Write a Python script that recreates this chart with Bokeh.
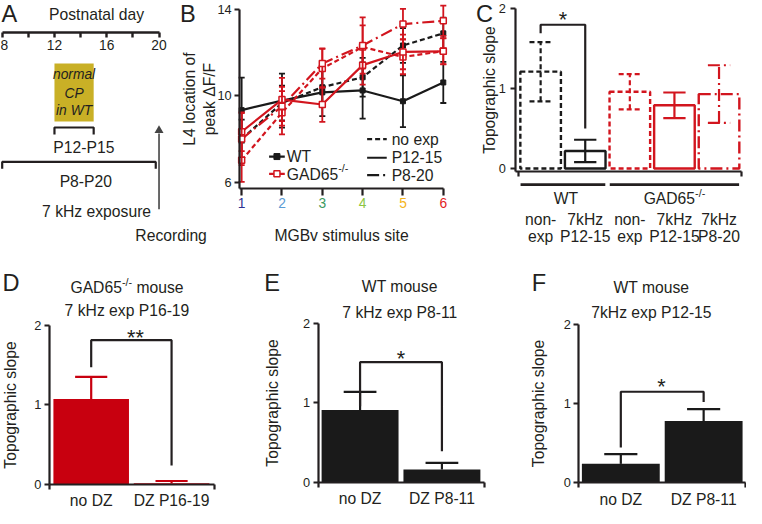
import numpy as np
from bokeh.plotting import figure
from bokeh.models import Range1d, LinearAxis, FixedTicker
from bokeh.core.properties import value
from bokeh.embed import file_html
from bokeh.resources import INLINE

# ---------------- data ----------------
# Panel A: timeline in postnatal days
a_major_days = [8, 12, 16, 20]
a_minor_days = [10, 14, 18]
a_cp_window = [12, 15]          # normal critical period in WT
a_exp_short = [12, 15]          # 7 kHz exposure P12-P15
a_exp_long = [8, 19.75]         # 7 kHz exposure P8-P20
a_record_day = 20

# Panel B: L4 location of peak dF/F vs MGBv stimulus site
b_sites = [1, 2, 3, 4, 5, 6]
b_site_colors = ["#2E3192", "#5B9BD5", "#3C9A5F", "#8DC63F", "#F5B41A", "#E31E24"]
b_wt_noexp = [8.0, 9.67, 10.4, 10.86, 12.33, 12.89]
b_wt_noexp_err = [0.9, 0.8, 0.8, 0.9, 0.8, 0.73]
b_wt_p1215 = [9.34, 9.78, 10.16, 10.25, 9.75, 10.62]
b_wt_p1215_err = [1.5, 1.25, 1.1, 1.3, 1.2, 0.95]
b_gad_noexp = [7.02, 9.22, 11.27, 12.26, 11.8, 12.07]
b_gad_noexp_err = [1.0, 1.0, 0.9, 1.0, 0.8, 0.6]
b_gad_p1215 = [8.34, 9.83, 9.6, 11.42, 12.03, 12.06]
b_gad_p1215_err = [0.9, 1.0, 0.8, 0.9, 0.8, 0.6]
b_gad_p820 = [8.0, 9.52, 11.5, 12.33, 13.32, 13.47]
b_gad_p820_err = [1.2, 0.9, 0.7, 1.3, 0.7, 0.7]

# Panel C: topographic slope
c_line1 = ["non-", "7kHz", "non-", "7kHz", "7kHz"]
c_line2 = ["exp", "P12-15", "exp", "P12-15", "P8-20"]
c_vals = [1.21, 0.22, 0.96, 0.79, 0.93]
c_errs = [0.37, 0.14, 0.22, 0.16, 0.36]
c_geno = ["WT", "WT", "GAD", "GAD", "GAD"]
c_cond = ["noexp", "p1215", "noexp", "p1215", "p820"]

# Panels D, E, F
d_labels = ["no DZ", "DZ P16-19"]
d_vals = [1.07, 0.01]
d_errs = [0.28, 0.03]
e_labels = ["no DZ", "DZ P8-11"]
e_vals = [0.91, 0.16]
e_errs = [0.23, 0.085]
f_labels = ["no DZ", "DZ P8-11"]
f_vals = [0.24, 0.78]
f_errs = [0.124, 0.15]

# ---------------- style / layout ----------------
W, H = 746, 508
FONT = "Liberation Sans"
INK = "#231F20"
RED = "#D2151E"
DRED = "#C8000F"
BLK = "#1A1A1A"
YEL = "#C9B026"
DASH = {"noexp": "5 3", "p1215": "solid", "p820": "12 4 2 4"}
GCOL = {"WT": BLK, "GAD": RED}

SX = 744 / 759; OX = 1 - 2 * SX
SY = 506 / 514; OY = 1 - 7 * SY
SC = (SX + SY) / 2


def LX(r):
    return r * SX + OX


def LY(r):
    return r * SY + OY


def fs(px):
    return f"{px * SC:.1f}px"


p = figure(width=W, height=H, output_backend="svg", toolbar_location=None,
           x_range=Range1d(-OX / SX, (W - OX) / SX),
           y_range=Range1d((H - OY) / SY, -OY / SY),
           x_axis_type=None, y_axis_type=None, min_border=0,
           outline_line_color=None, background_fill_color="white",
           border_fill_color="white")

MAP = {}


def add_xr(name, x0, x1, rx0, rx1):
    lx0, lx1 = LX(rx0), LX(rx1)
    s = (lx1 - lx0) / (x1 - x0)
    xs = x0 - lx0 / s
    p.extra_x_ranges[name] = Range1d(start=xs, end=xs + W / s)
    MAP[name + "x"] = (x0, x1, rx0, rx1)


def add_yr(name, y0, y1, ry0, ry1):
    ly0, ly1 = LY(ry0), LY(ry1)
    t = (ly0 - ly1) / (y1 - y0)
    ys = y0 - (H - ly0) / t
    p.extra_y_ranges[name] = Range1d(start=ys, end=ys + H / t)


def to_rx(name, x):
    x0, x1, rx0, rx1 = MAP[name + "x"]
    return rx0 + (x - x0) * (rx1 - rx0) / (x1 - x0)


AW = {' ': 278, '-': 333, '/': 278, 'A': 667, 'D': 722, 'G': 778, 'W': 944, 'T': 611,
      'k': 500, 'H': 722, 'z': 500, 'm': 833, 'o': 556, 'u': 556, 's': 500, 'e': 556,
      'x': 500, 'p': 556, 'P': 667}


def tw(s, size):
    return sum(AW.get(c, 556) for c in s) / 1000 * size


def T(x, y, s, size=16, align="center", base="middle", color=INK, style="normal",
      xr="default", yr="default"):
    p.text(x=[x], y=[y], text=[s], text_font=value(FONT), text_font_size=fs(size),
           text_align=align, text_baseline=base, text_color=color,
           text_font_style=style, x_range_name=xr, y_range_name=yr)


def rich(x, cy, parts, align="center"):
    total = sum(tw(s, sz) for s, sz, r in parts)
    cur = x - total / 2 if align == "center" else x
    for s, sz, r in parts:
        lead = len(s) - len(s.lstrip(" "))
        cur += tw(" " * lead, sz)
        T(cur, cy - r, s.strip(" "), size=sz, align="left")
        cur += tw(s.strip(" "), sz)


def make_axis(side, xr, yr, loc, bounds, ticks=(), minor=(), label=None,
              lab_color=INK, line=True, tick_color=INK, tick_out=5, minor_out=5,
              lab_size=13, standoff=3, label_standoff=5, overrides=None,
              label_size=16, lw=2.2):
    ax = LinearAxis(x_range_name=xr, y_range_name=yr, fixed_location=loc,
                    bounds=bounds,
                    ticker=FixedTicker(ticks=list(ticks), minor_ticks=list(minor)))
    ax.axis_line_width = lw
    ax.axis_line_color = INK if line else None
    ax.major_tick_line_color = tick_color
    ax.major_tick_line_width = lw
    ax.major_tick_out = tick_out
    ax.major_tick_in = 0
    ax.minor_tick_line_color = INK
    ax.minor_tick_line_width = lw
    ax.minor_tick_out = minor_out
    ax.minor_tick_in = 0
    ax.major_label_text_font = FONT
    ax.major_label_text_font_size = fs(lab_size)
    ax.major_label_text_color = lab_color
    ax.major_label_standoff = standoff
    if overrides:
        ax.major_label_overrides = overrides
    if label:
        ax.axis_label = label
        ax.axis_label_text_font = FONT
        ax.axis_label_text_font_size = fs(label_size)
        ax.axis_label_text_font_style = "normal"
        ax.axis_label_text_color = INK
        ax.axis_label_standoff = label_standoff
    p.add_layout(ax, side)
    return ax


# ---------------- panel letters ----------------
for letter, lx, ly in [("A", 2, 20), ("B", 184, 20), ("C", 486, 20),
                       ("D", 3, 293), ("E", 270, 293), ("F", 543, 293)]:
    T(lx, ly, letter, size=24, align="left")

# ---------------- panel A ----------------
add_xr("A", 8, 20, 2.7, 162.7)
T(99, 20, "Postnatal day")
make_axis("below", "A", "default", 38.3, (8, 20), ticks=a_major_days,
          minor=a_minor_days, tick_out=5, minor_out=5, lab_size=14, standoff=3, lw=2.4)
p.quad(left=[a_cp_window[0]], right=[a_cp_window[1]], top=[70], bottom=[129],
       fill_color=YEL, line_color=None, x_range_name="A")
xc = (a_cp_window[0] + a_cp_window[1]) / 2
for yy, s in zip([81, 100, 118], ["normal", "CP", "in WT"]):
    T(xc, yy, s, size=14, style="italic", xr="A")
p.multi_line(xs=[[a_exp_short[0], a_exp_short[0], a_exp_short[1], a_exp_short[1]],
                 [a_exp_long[0], a_exp_long[0], a_exp_long[1], a_exp_long[1]]],
             ys=[[142, 135, 135, 142], [177, 170, 170, 177]],
             line_color=INK, line_width=2.2, x_range_name="A")
T(86, 155, "P12-P15")
T(88, 189.5, "P8-P20")
T(99, 220, "7 kHz exposure")
p.segment(x0=[a_record_day], y0=[218], x1=[a_record_day], y1=[141],
          line_color="#444444", line_width=1.6, x_range_name="A")
p.scatter(x=[a_record_day], y=[138], marker="triangle", size=9,
          fill_color="#444444", line_color=None, x_range_name="A")
T(175, 245, "Recording")

# ---------------- panel B ----------------
add_xr("B", 1, 6, 247, 452.7)
add_yr("B", 6, 14, 190.7, 15)
B_XAX = 5.727
make_axis("left", "B", "B", 0.95, (B_XAX, 14), ticks=[6, 10, 14],
          label="L4 location of\npeak ΔF/F", standoff=3, label_standoff=-4)
make_axis("below", "B", "B", B_XAX, (0.95, 6), ticks=[], minor=b_sites, minor_out=7)
for i, (s, c) in enumerate(zip(b_sites, b_site_colors)):
    make_axis("below", "B", "B", B_XAX, (0.95, 6), ticks=[s], line=False,
              tick_color=None, tick_out=7, lab_color=c, lab_size=14, standoff=3,
              label="MGBv stimulus site" if i == 0 else None, label_standoff=15)

b_series = [
    (b_wt_noexp, b_wt_noexp_err, "WT", "noexp"),
    (b_wt_p1215, b_wt_p1215_err, "WT", "p1215"),
    (b_gad_noexp, b_gad_noexp_err, "GAD", "noexp"),
    (b_gad_p1215, b_gad_p1215_err, "GAD", "p1215"),
    (b_gad_p820, b_gad_p820_err, "GAD", "p820"),
]
kB = dict(x_range_name="B", y_range_name="B")
bx = np.array(b_sites, float)
for vals, errs, geno, cond in b_series:
    col = GCOL[geno]
    v = np.array(vals)
    e = np.array(errs)
    p.segment(x0=bx, y0=v - e, x1=bx, y1=v + e, line_color=col, line_width=1.8, **kB)
    for yy in (v - e, v + e):
        p.segment(x0=bx - 0.075, y0=yy, x1=bx + 0.075, y1=yy, line_color=col,
                  line_width=1.8, **kB)
    p.line(bx, v, line_color=col, line_width=2.2, line_dash=DASH[cond], **kB)
    if geno == "WT":
        p.scatter(bx, v, marker="square", size=5, fill_color=col, line_color=col, **kB)
    else:
        p.scatter(bx, v, marker="square", size=6, fill_color="white", line_color=col,
                  line_width=1.5, **kB)

# legend of panel B
p.segment(x0=[275], y0=[164.5], x1=[291], y1=[164.5], line_color=BLK, line_width=2.2)
p.scatter(x=[283], y=[164.5], marker="square", size=6, fill_color=BLK, line_color=BLK)
p.segment(x0=[275], y0=[182], x1=[291], y1=[182], line_color=RED, line_width=2.2)
p.scatter(x=[283], y=[182], marker="square", size=6, fill_color="white",
          line_color=RED, line_width=1.5)
T(293, 164.7, "WT", align="left")
rich(293, 182.5, [("GAD65", 16, 0), ("-/-", 11, 6)], align="left")
for yy, cond, s in [(146.7, "noexp", "no exp"), (165.7, "p1215", "P12-15"),
                    (183.3, "p820", "P8-20")]:
    p.segment(x0=[375], y0=[yy], x1=[395], y1=[yy], line_color=BLK, line_width=2.2,
              line_dash=DASH[cond])
    T(400, yy, s, align="left")

# ---------------- panel C ----------------
add_xr("C", 0, 4, 552, 734)
add_yr("C", 0, 2, 176.7, 14)
kC = dict(x_range_name="C", y_range_name="C")
C_YAX, C_XAX, C_XEND = -0.556, -0.04, 4.5
make_axis("left", "C", "C", C_YAX, (C_XAX, 2), ticks=[0, 1, 2],
          label="Topographic slope", standoff=5, label_standoff=-3)
make_axis("below", "C", "C", C_XAX, (C_YAX, C_XEND), ticks=[], minor=[-0.5, C_XEND])
for i, (v, e, g, cond) in enumerate(zip(c_vals, c_errs, c_geno, c_cond)):
    col = GCOL[g]
    dash = DASH[cond]
    p.vbar(x=[i], top=[v], bottom=0, width=0.91, fill_color=None, line_color=col,
           line_width=2.4, line_dash=dash, **kC)
    p.segment(x0=[i], y0=[v - e], x1=[i], y1=[v + e], line_color=col, line_width=2.2,
              line_dash=dash, **kC)
    for yy in (v - e, v + e):
        p.segment(x0=[i - 0.25], y0=[yy], x1=[i + 0.25], y1=[yy], line_color=col,
                  line_width=2.2, line_dash=dash, **kC)
    T(i, 228, c_line1[i], xr="C")
    T(i, 245.4, c_line2[i], xr="C")
p.multi_line(xs=[[0, 0, 1, 1]], ys=[[1.69, 1.796, 1.796, 0.5]], line_color=INK,
             line_width=2.2, **kC)
T(0.5, 1.866, "*", size=22, xr="C", yr="C")
groups = [("WT", [0, 1]), ("GAD", [2, 3, 4])]
for g, idx in groups:
    p.segment(x0=[min(idx) - 0.45], y0=[193], x1=[max(idx) + 0.45], y1=[193],
              line_color=INK, line_width=2.6, x_range_name="C")
    cx = to_rx("C", (min(idx) + max(idx)) / 2)
    if g == "WT":
        T(cx + 3, 207.5, "WT")
    else:
        rich(cx, 207.5, [("GAD65", 16, 0), ("-/-", 11, 6)])

# ---------------- panels D, E, F ----------------
bar_panels = [
    dict(name="D", vals=d_vals, errs=d_errs, labels=d_labels, color=DRED,
         rx=(93.5, 175.5), ry=(497.3, 335.7), yax=-0.52, xend=1.54,
         t1=[("GAD65", 16, 0), ("-/-", 11, 6), (" mouse", 16, 0)],
         t2="7 kHz exp P16-19", tcx=130, tc=(297.5, 321),
         star="**", star_xy=(0.55, 1.844), br=(1.47, 1.81, 0.235), lstand=12),
    dict(name="E", vals=e_vals, errs=e_errs, labels=e_labels, color=BLK,
         rx=(367.8, 451.3), ry=(495.3, 334.3), yax=-0.513, xend=1.52,
         t1=[("WT mouse", 16, 0)], t2="7 kHz exp P8-11", tcx=408.3, tc=(296, 322.5),
         star="*", star_xy=(0.5, 1.557), br=(0.957, 1.515, 0.39), lstand=19),
    dict(name="F", vals=f_vals, errs=f_errs, labels=f_labels, color=BLK,
         rx=(633.8, 718.3), ry=(496, 335), yax=-0.507, xend=1.505,
         t1=[("WT mouse", 16, 0)], t2="7kHz exp P12-15", tcx=665, tc=(297.5, 323),
         star="*", star_xy=(0.49, 1.214), br=(0.447, 1.15, 1.02), lstand=13),
]
for bp in bar_panels:
    n = bp["name"]
    add_xr(n, 0, 1, *bp["rx"])
    add_yr(n, 0, 2, *bp["ry"])
    kk = dict(x_range_name=n, y_range_name=n)
    xs = list(range(len(bp["vals"])))
    make_axis("left", n, n, bp["yax"], (0, 2), ticks=[0, 1, 2],
              label="Topographic slope", standoff=3, label_standoff=bp["lstand"])
    make_axis("below", n, n, 0, (bp["yax"], bp["xend"]), ticks=xs,
              minor=[bp["yax"], bp["xend"]], tick_color=None, tick_out=0, minor_out=5,
              lab_size=16, standoff=3,
              overrides={x: s for x, s in zip(xs, bp["labels"])})
    p.vbar(x=xs, top=bp["vals"], bottom=0, width=0.94, fill_color=bp["color"],
           line_color=None, **kk)
    v = np.array(bp["vals"])
    e = np.array(bp["errs"])
    xa = np.array(xs, float)
    p.segment(x0=xa, y0=v, x1=xa, y1=v + e, line_color=bp["color"], line_width=2.2, **kk)
    p.segment(x0=xa - 0.2, y0=v + e, x1=xa + 0.2, y1=v + e, line_color=bp["color"],
              line_width=2.2, **kk)
    yl, yt, yr_ = bp["br"]
    p.multi_line(xs=[[0, 0, 1, 1]], ys=[[yl, yt, yt, yr_]], line_color=INK,
                 line_width=2.2, **kk)
    sx, sy = bp["star_xy"]
    T(sx, sy, bp["star"], size=22, xr=n, yr=n)
    rich(bp["tcx"], bp["tc"][0], bp["t1"])
    T(bp["tcx"], bp["tc"][1], bp["t2"])

open("out.html", "w").write(file_html(p, INLINE))
